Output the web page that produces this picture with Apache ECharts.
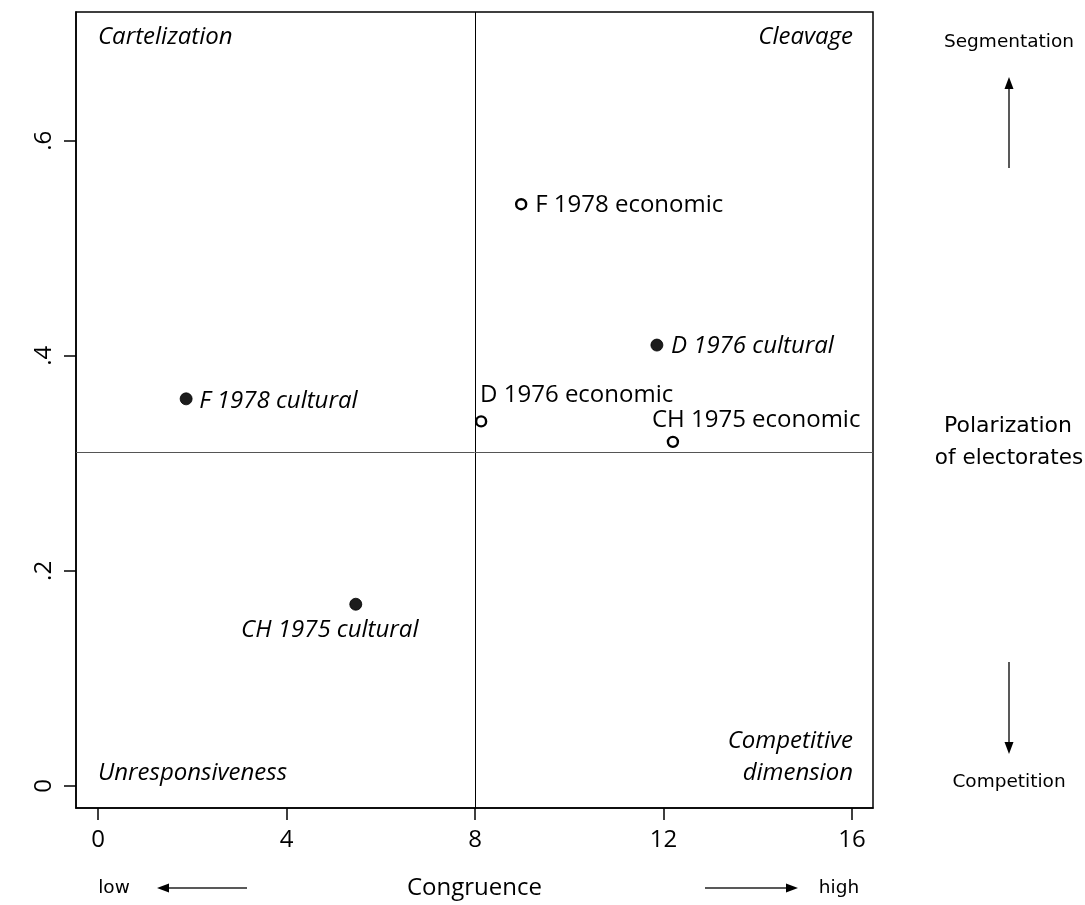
<!DOCTYPE html>
<html>
<head>
<meta charset="utf-8">
<script src="https://cdn.jsdelivr.net/npm/echarts@6.0.0/dist/echarts.min.js"></script>
<style>html,body{margin:0;padding:0;background:#fff;}#chart{width:1085px;height:905px;}</style>
</head>
<body>
<div id="chart"></div>
<script>
// ---- data ----
const pointNames = ['F 1978 economic', 'D 1976 cultural', 'F 1978 cultural', 'D 1976 economic', 'CH 1975 economic', 'CH 1975 cultural'];
const dimension = ['economic', 'cultural', 'cultural', 'economic', 'economic', 'cultural'];
const congruence = [8.98, 11.86, 1.87, 8.13, 12.20, 5.47];
const polarization = [0.541, 0.410, 0.360, 0.339, 0.320, 0.169];
const xTicks = [0, 4, 8, 12, 16];
const yTicks = [0, 0.2, 0.4, 0.6];
const yTickLabels = ['0', '.2', '.4', '.6'];
const refCongruence = 8;
const refPolarization = 0.307;
const quadrantNames = ['Cartelization', 'Cleavage', 'Unresponsiveness', 'Competitive\ndimension'];

// ---- presentation ----
const FONT = '"Open Sans", "Noto Sans", sans-serif';
const SIDE = '"DejaVu Sans", sans-serif';
const FS = 24;
const labelPlacement = {
  'F 1978 economic': { align: 'left', offset: [14, 1] },
  'D 1976 cultural': { align: 'left', offset: [14, 1] },
  'F 1978 cultural': { align: 'left', offset: [13, 2] },
  'D 1976 economic': { align: 'left', offset: [-1, -26] },
  'CH 1975 economic': { align: 'left', offset: [-21, -22] },
  'CH 1975 cultural': { align: 'center', offset: [-26, 26] }
};

function buildData(kind) {
  const out = [];
  pointNames.forEach((n, i) => {
    if (dimension[i] !== kind) return;
    const p = labelPlacement[n];
    out.push({
      name: n,
      value: [congruence[i], polarization[i]],
      label: {
        show: true, formatter: n, position: 'inside', align: p.align, verticalAlign: 'middle',
        offset: p.offset, color: '#000', fontSize: FS, fontFamily: FONT,
        fontStyle: kind === 'cultural' ? 'italic' : 'normal'
      }
    });
  });
  return out;
}

const chart = echarts.init(document.getElementById('chart'), null, { renderer: 'canvas' });

const textEl = (x, y, text, font, align) => ({
  type: 'text', x: x, y: y, silent: true,
  style: { text: text, font: font, fill: '#000', align: align, verticalAlign: 'middle' }
});
const lineEl = (x1, y1, x2, y2) => ({
  type: 'line', silent: true, shape: { x1, y1, x2, y2 }, style: { stroke: '#222', lineWidth: 1.5 }
});
const headEl = (pts) => ({ type: 'polygon', silent: true, shape: { points: pts }, style: { fill: '#000' } });

const IT = 'italic ' + FS + 'px ' + FONT;
const option = {
  animation: false,
  backgroundColor: '#fff',
  grid: { left: 76, top: 12, width: 797, height: 796, show: true, borderColor: '#000', borderWidth: 1.5, backgroundColor: 'transparent' },
  xAxis: {
    type: 'value', min: -0.467, max: 16.446,
    axisLine: { show: true, onZero: false, lineStyle: { color: '#000', width: 1.5 } },
    axisTick: { show: true, length: 12, customValues: xTicks, lineStyle: { color: '#000', width: 1.5 } },
    axisLabel: { customValues: xTicks, margin: 20, fontSize: FS, color: '#000', fontFamily: FONT },
    splitLine: { show: false },
    name: 'Congruence', nameLocation: 'middle', nameGap: 68,
    nameTextStyle: { fontSize: FS, color: '#000', fontFamily: FONT }
  },
  yAxis: {
    type: 'value', min: -0.02046, max: 0.7197,
    axisLine: { show: true, onZero: false, lineStyle: { color: '#000', width: 1.5 } },
    axisTick: { show: true, length: 12, customValues: yTicks, lineStyle: { color: '#000', width: 1.5 } },
    axisLabel: {
      customValues: yTicks, margin: 20, rotate: 90, fontSize: FS, color: '#000', fontFamily: FONT,
      formatter: (v) => { const k = yTicks.findIndex(t => Math.abs(t - v) < 1e-9); return k >= 0 ? yTickLabels[k] : ''; }
    },
    splitLine: { show: false }
  },
  series: [
    {
      type: 'scatter', name: 'economic', symbol: 'circle', symbolSize: 10, z: 3,
      itemStyle: { color: '#fff', borderColor: '#000', borderWidth: 2.4, opacity: 1 },
      data: buildData('economic'),
      markLine: {
        silent: true, symbol: 'none', label: { show: false }, z: 1,
        data: [
          { xAxis: refCongruence, lineStyle: { color: '#000', width: 1, type: 'solid' } },
          { yAxis: refPolarization, lineStyle: { color: '#555', width: 1, type: 'solid' } }
        ]
      }
    },
    {
      type: 'scatter', name: 'cultural', symbol: 'circle', symbolSize: 12, z: 3,
      itemStyle: { color: '#1c1c1c', borderColor: '#000', borderWidth: 0.8, opacity: 1 },
      data: buildData('cultural')
    }
  ],
  graphic: [
    textEl(98, 37, quadrantNames[0], IT, 'left'),
    textEl(853, 37, quadrantNames[1], IT, 'right'),
    textEl(98, 773, quadrantNames[2], IT, 'left'),
    textEl(853, 741, quadrantNames[3].split('\n')[0], IT, 'right'),
    textEl(853, 773, quadrantNames[3].split('\n')[1], IT, 'right'),
    textEl(1009, 42, 'Segmentation', '18.5px ' + SIDE, 'center'),
    textEl(1008, 426, 'Polarization', '22px ' + SIDE, 'center'),
    textEl(1009, 458, 'of electorates', '21.5px ' + SIDE, 'center'),
    textEl(1009, 782, 'Competition', '18.5px ' + SIDE, 'center'),
    lineEl(1009, 168, 1009, 86),
    headEl([[1004.5, 89], [1013.5, 89], [1009, 77]]),
    lineEl(1009, 662, 1009, 745),
    headEl([[1004.5, 742], [1013.5, 742], [1009, 754]]),
    textEl(114, 888, 'low', '18.5px ' + SIDE, 'center'),
    lineEl(247, 888, 165, 888),
    headEl([[169, 883.5], [169, 892.5], [157, 888]]),
    lineEl(705, 888, 788, 888),
    headEl([[786, 883.5], [786, 892.5], [798, 888]]),
    textEl(839, 888, 'high', '18.5px ' + SIDE, 'center')
  ]
};
chart.setOption(option);
</script>
</body>
</html>
